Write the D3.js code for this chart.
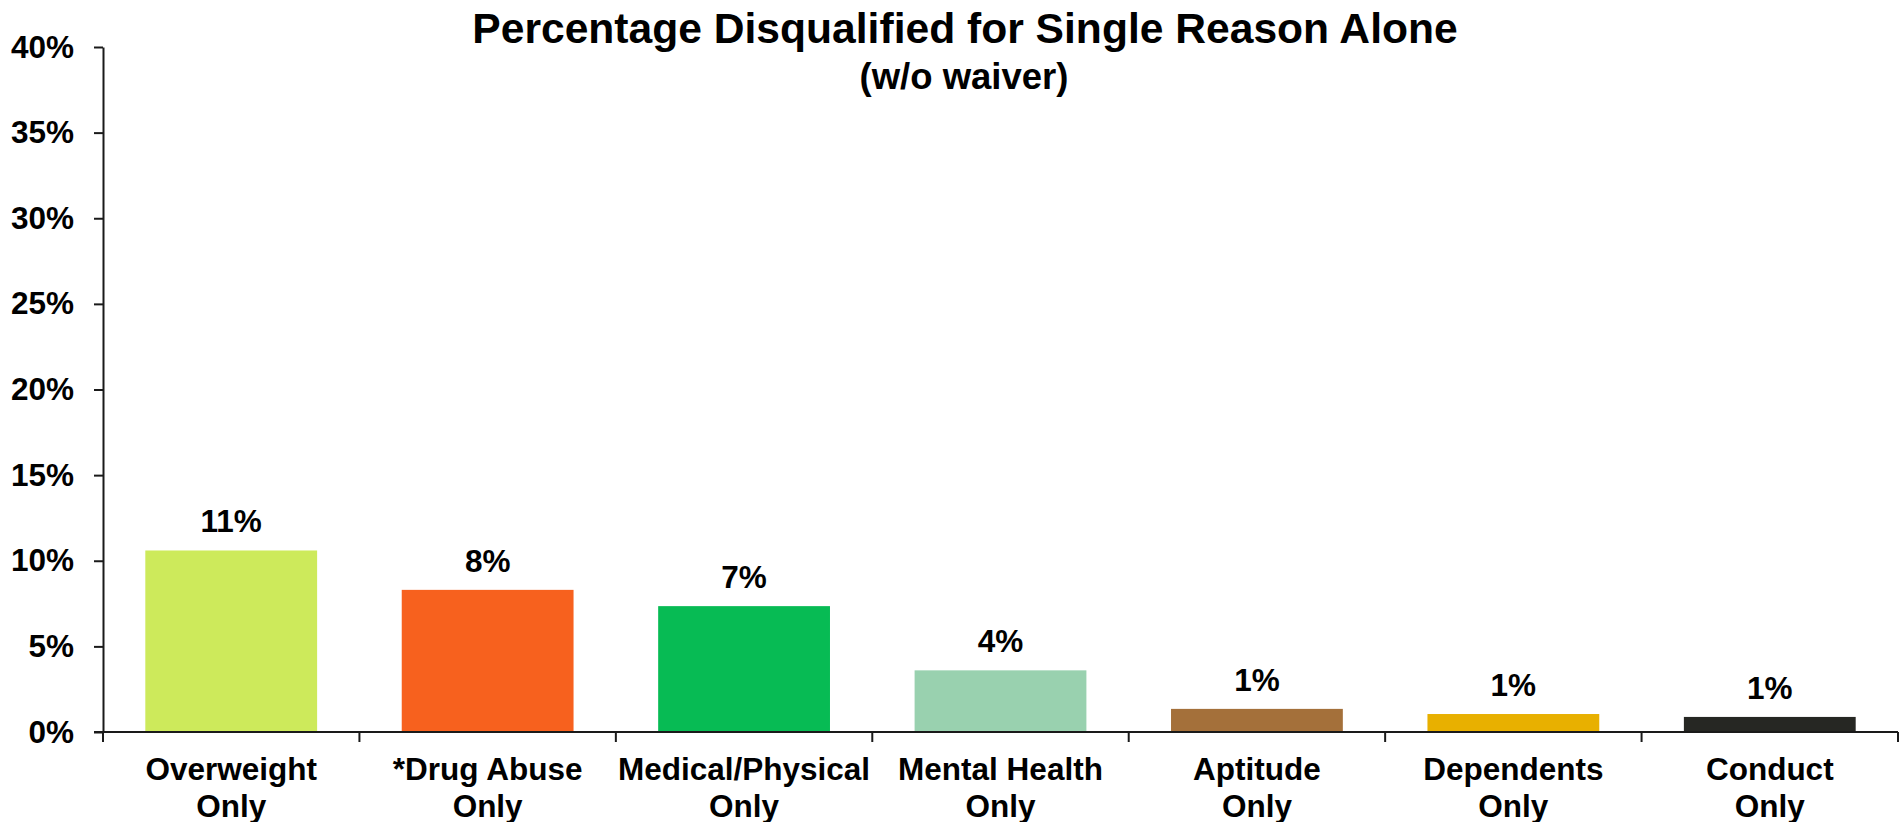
<!DOCTYPE html>
<html>
<head>
<meta charset="utf-8">
<script src="https://cdn.jsdelivr.net/npm/d3@7"></script>
<style>
  html, body { margin: 0; padding: 0; background: #fff; }
  svg { display: block; font-family: "Liberation Sans", Arial, Helvetica, sans-serif; font-weight: bold; }
</style>
</head>
<body>
<svg id="chart" width="1902" height="822"></svg>
<script>
// Categories (two-line labels) and share disqualified for that reason alone
const categories = ["Overweight|Only", "*Drug Abuse|Only", "Medical/Physical|Only", "Mental Health|Only", "Aptitude|Only", "Dependents|Only", "Conduct|Only"];
const values = [0.106, 0.083, 0.0735, 0.036, 0.0135, 0.0105, 0.0088];
const barColors = ["#CDEA5B", "#F7611E", "#07BB54", "#99D1AF", "#A4703A", "#E8B000", "#262723"];
const yTicks = [0, 0.05, 0.10, 0.15, 0.20, 0.25, 0.30, 0.35, 0.40];
const titleText = "Percentage Disqualified for Single Reason Alone";
const subtitleText = "(w/o waiver)";

const svg = d3.select("#chart");
const plotLeft = 103, plotRight = 1898, plotTop = 47, plotBottom = 732;
const fontSize = 31.5;
const axisColor = "#1a1a1a";

const x = d3.scaleBand().domain(categories).range([plotLeft, plotRight]).paddingInner(0.33).paddingOuter(0.165);
const y = d3.scaleLinear().domain([0, 0.4]).range([plotBottom, plotTop]);
const pct = d3.format(".0%");

// Title
svg.append("text")
  .attr("x", 965).attr("y", 43)
  .attr("text-anchor", "middle")
  .attr("font-size", 42.6)
  .attr("fill", "#000")
  .text(titleText);
svg.append("text")
  .attr("x", 964).attr("y", 89)
  .attr("text-anchor", "middle")
  .attr("font-size", 36.5)
  .attr("fill", "#000")
  .text(subtitleText);

// Bars
svg.append("g").selectAll("rect")
  .data(categories)
  .join("rect")
  .attr("x", d => x(d))
  .attr("width", x.bandwidth())
  .attr("y", (d, i) => y(values[i]))
  .attr("height", (d, i) => y(0) - y(values[i]))
  .attr("fill", (d, i) => barColors[i]);

// Value labels above bars
svg.append("g").selectAll("text")
  .data(categories)
  .join("text")
  .attr("x", d => x(d) + x.bandwidth() / 2)
  .attr("y", (d, i) => y(values[i]) - 18)
  .attr("text-anchor", "middle")
  .attr("font-size", fontSize)
  .attr("fill", "#000")
  .text((d, i) => pct(values[i]));

// Y axis
const yAxis = svg.append("g")
  .attr("transform", `translate(${plotLeft},0)`)
  .call(d3.axisLeft(y).tickValues(yTicks).tickFormat(pct).tickSize(9).tickSizeOuter(0).tickPadding(20));
yAxis.select(".domain").attr("stroke", axisColor).attr("stroke-width", 2);
yAxis.selectAll(".tick line").attr("stroke", axisColor).attr("stroke-width", 2);
yAxis.selectAll(".tick text")
  .attr("font-size", fontSize)
  .attr("font-family", "Liberation Sans, Arial, sans-serif")
  .attr("font-weight", "bold")
  .attr("fill", "#000");

// X axis baseline and category boundary ticks
const xAxis = svg.append("g");
xAxis.append("line")
  .attr("x1", plotLeft - 9).attr("x2", plotRight)
  .attr("y1", y(0)).attr("y2", y(0))
  .attr("stroke", axisColor).attr("stroke-width", 2);
const boundaries = categories.map(d => x(d) - x.step() * x.paddingInner() / 2).concat([plotRight]);
xAxis.selectAll("line.bound")
  .data(boundaries)
  .join("line")
  .attr("class", "bound")
  .attr("x1", d => d).attr("x2", d => d)
  .attr("y1", y(0)).attr("y2", y(0) + 10)
  .attr("stroke", axisColor).attr("stroke-width", 2);

// Category labels (two lines)
const labels = xAxis.selectAll("text.cat")
  .data(categories)
  .join("text")
  .attr("class", "cat")
  .attr("text-anchor", "middle")
  .attr("font-size", fontSize)
  .attr("fill", "#000");
labels.each(function(d) {
  const cx = x(d) + x.bandwidth() / 2;
  const parts = d.split("|");
  d3.select(this).selectAll("tspan")
    .data(parts)
    .join("tspan")
    .attr("x", cx)
    .attr("y", (p, j) => 780 + j * 37)
    .text(p => p);
});
</script>
</body>
</html>
